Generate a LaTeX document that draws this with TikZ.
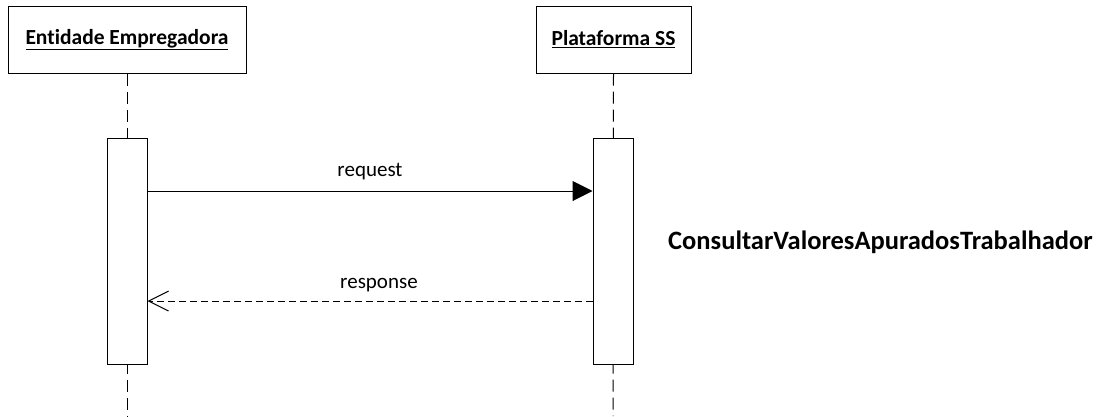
\documentclass[tikz,border=0pt]{standalone}
\usepackage{fontspec}
\setmainfont{Carlito}[Ligatures={NoCommon}]
\usetikzlibrary{arrows.meta}
\begin{document}
\begin{tikzpicture}[x=1pt,y=-1pt,
  lifebox/.style={draw,line width=1pt,fill=white,minimum width=238pt,minimum height=67pt,inner sep=0pt,font=\fontsize{21.5}{24}\selectfont\bfseries},
  actbox/.style={draw,line width=1pt,fill=white,minimum width=40pt,minimum height=226pt,inner sep=0pt},
  lifeline/.style={line width=1pt,dash pattern=on 12pt off 6pt},
  msg/.style={font=\fontsize{21}{24}\selectfont}]
\useasboundingbox (0,0) rectangle (1104,416);
\coordinate (e1) at (127,416);
\coordinate (p1) at (613,416);
\node[lifebox] (ent) at (127,39.5) {\underline{Entidade Empregadora}};
\node[lifebox,minimum width=155pt] (plat) at (613.5,39.5) {\underline{Plataforma SS}};
\draw[lifeline] (ent.south) -- (e1);
\draw[lifeline] (plat.south) -- (p1);
\node[actbox] (a1) at (127,251) {};
\node[actbox] (a2) at (613,251) {};
\draw[line width=1pt,-{Triangle[length=20pt,width=20pt]}] (a1.east |- 0,191) -- (a2.west |- 0,191);
\node[msg,anchor=base] (req) at (370,176) {request};
\draw[line width=1pt,dash pattern=on 7pt off 4pt,-{Straight Barb[length=20pt,width=20pt,line width=1pt]}] (a2.west |- 0,301) -- (a1.east |- 0,301);
\node[msg,anchor=base] (resp) at (379,288) {response};
\node[font=\fontsize{26.5}{30}\selectfont\bfseries,anchor=base west,inner sep=0pt] (title) at (668,249) {ConsultarValoresApuradosTrabalhador};
\end{tikzpicture}
\end{document}
